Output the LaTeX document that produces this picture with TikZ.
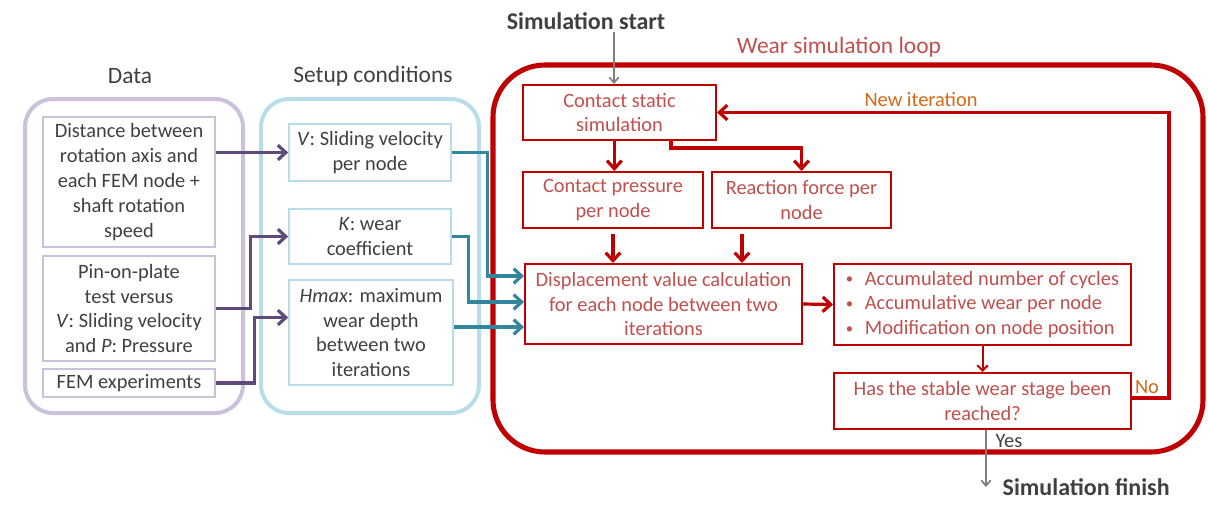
\documentclass[tikz,border=0pt]{standalone}
\usepackage{fontspec}
\setmainfont{Carlito}
\usetikzlibrary{arrows.meta,calc}
\definecolor{dtext}{HTML}{404040}
\definecolor{lav}{HTML}{CCC1DA}
\definecolor{purp}{HTML}{604A7B}
\definecolor{lblue}{HTML}{B7DDE8}
\definecolor{tealc}{HTML}{31859C}
\definecolor{dred}{HTML}{C00000}
\definecolor{rtext}{HTML}{C0504D}
\definecolor{orng}{HTML}{D46A17}
\definecolor{gry}{HTML}{808080}
\newcommand\bx[7]{\node[#2, minimum width={(#5-#3)*0.75pt}, minimum height={(#6-#4)*0.75pt}] (#1) at ({(#3+#5)/2},{(#4+#6)/2}) {#7};}
\newcommand\bul{\makebox[14.2pt][l]{\fontsize{11}{11}\selectfont\raisebox{1pt}{•}}}
\begin{document}
\begin{tikzpicture}[x=0.75pt,y=-0.75pt,
  txtbase/.style={font=\fontsize{15.3}{18.6}\selectfont, inner sep=0pt},
  txt/.style={txtbase, align=center},
  databox/.style={txt, draw=lav, line width=1.2pt, text=dtext},
  setbox/.style={txt, draw=lblue, line width=1.2pt, text=dtext},
  redbox/.style={txt, draw=dred, line width=1.5pt, text=rtext},
  redlist/.style={txtbase, align=left, draw=dred, line width=1.5pt, text=rtext},
  container/.style={inner sep=0pt, rounded corners=21pt, line width=3pt},
  title/.style={font=\fontsize{17.6}{21}\selectfont, text=dtext},
  bigtitle/.style={font=\fontsize{18}{22}\selectfont\bfseries, text=dtext},
  purparrow/.style={draw=purp, line width=2.4pt, -{Straight Barb[length=6pt,width=11pt]}},
  tealarrow/.style={draw=tealc, line width=2.4pt, -{Straight Barb[length=6pt,width=11pt]}},
  redarrow/.style={draw=dred, line width=2.4pt, -{Straight Barb[length=6pt,width=11pt]}},
  redthin/.style={draw=dred, line width=1.5pt, -{Straight Barb[length=4pt,width=8pt]}},
  greyarrow/.style={draw=gry, line width=1.3pt, -{Straight Barb[length=4pt,width=7pt]}},
  lbl/.style={font=\fontsize{15.3}{18.6}\selectfont}
]
\useasboundingbox[fill=white] (0,0) rectangle (1208,504);

% containers
\bx{data}{container, draw=lav}{25}{99}{243}{413}{}
\bx{setup}{container, draw=lblue}{261}{99}{479}{413}{}
\bx{loop}{container, draw=dred, line width=3.8pt, rounded corners=39pt}{493}{65}{1203}{452}{}

% titles
\node[title] (tdata) at (130,76) {Data};
\node[title] (tsetup) at (373,76) {Setup conditions};
\node[title, text=rtext] (tloop) at (839,47) {Wear simulation loop};
\node[bigtitle] (start) at (586,21) {Simulation start};
\node[bigtitle, anchor=west] (finish) at (998,487) {Simulation finish};

% data boxes
\bx{b1}{databox}{43}{117}{215}{247}{Distance between\\rotation axis and\\each FEM node +\\shaft rotation\\speed}
\bx{b2}{databox}{43}{256}{215}{361}{Pin-on-plate\\test versus\\\textit{V}: Sliding velocity\\and \textit{P}: Pressure}
\bx{b3}{databox}{43}{369}{215}{397}{FEM experiments}

% setup boxes
\bx{s1}{setbox}{289}{124}{451}{181}{\textit{V}: Sliding velocity\\per node}
\bx{s2}{setbox}{289}{209}{451}{264}{\textit{K}: wear\\coefficient}
\bx{s3}{setbox}{289}{280}{453}{385}{\textit{Hmax}: maximum\\wear depth\\between two\\iterations}

% red boxes
\bx{c1}{redbox}{523}{85}{716}{140}{Contact static\\simulation}
\bx{c2}{redbox}{523}{172}{703}{228}{Contact pressure\\per node}
\bx{c3}{redbox}{712}{172}{891}{228}{Reaction force per\\node}
\bx{d}{redbox}{525}{264}{802}{344}{Displacement value calculation\\for each node between two\\iterations}
\bx{e}{redlist}{834}{264}{1131}{345}{\bul Accumulated number of cycles\\\bul Accumulative wear per node\\\bul Modification on node position}
\bx{f}{redbox}{834}{373}{1131}{429}{Has the stable wear stage been\\reached?}

% purple arrows
\draw[purparrow] (b1.east |- s1.west) -- (s1.west);
\draw[purparrow] (b2.east) -- ++(35,0) |- (s2.west);
\coordinate (s3in) at ([yshift=11.25pt]s3.west);
\draw[purparrow] (b3.east) -- ++(39,0) |- (s3in);

% teal arrows
\coordinate (d1) at ([yshift=21pt]d.west);
\coordinate (d2) at ([yshift=1.5pt]d.west);
\coordinate (d3) at ([yshift=-17.25pt]d.west);
\draw[tealarrow] (s1.east) -- ++(36,0) |- (d1);
\draw[tealarrow] (s2.east) -- ++(17,0) |- (d2);
\draw[tealarrow] (s3.east |- d3) -- (d3);

% red flow
\coordinate (s0) at (614,32);
\draw[greyarrow] (s0) -- (s0 |- c1.north);
\coordinate (c1a) at ([xshift=1pt]c1.south -| c2.north);
\draw[redarrow] (c1a) -- (c1a |- c2.north);
\draw[redarrow] ([xshift=-34.5pt]c1.south east) -- ++(0,7) -| (c3.north);
\draw[redarrow, shorten <=4pt] (c2.south) -- (c2.south |- d.north);
\coordinate (c3a) at ([xshift=23.25pt]c3.south west);
\draw[redarrow, shorten <=4pt] (c3a) -- (c3a |- d.north);
\draw[redarrow] (d.east) -- (e.west);
\draw[redthin] (e.south) -- (f.north);
\coordinate (fno) at ([yshift=2.25pt]f.east);
\draw[redarrow] (fno) -- ++(37,0) |- (c1.east);
\coordinate (fyes) at ([xshift=2.6pt]f.south);
\coordinate (fend) at (fyes |- finish.west);
\draw[greyarrow] (fyes) -- (fend);

% labels
\node[lbl, text=orng] (newit) at (921,100) {New iteration};
\node[lbl, text=orng] (no) at (1147,387) {No};
\node[lbl, text=dtext] (yes) at (1009,441) {Yes};
\end{tikzpicture}
\end{document}
